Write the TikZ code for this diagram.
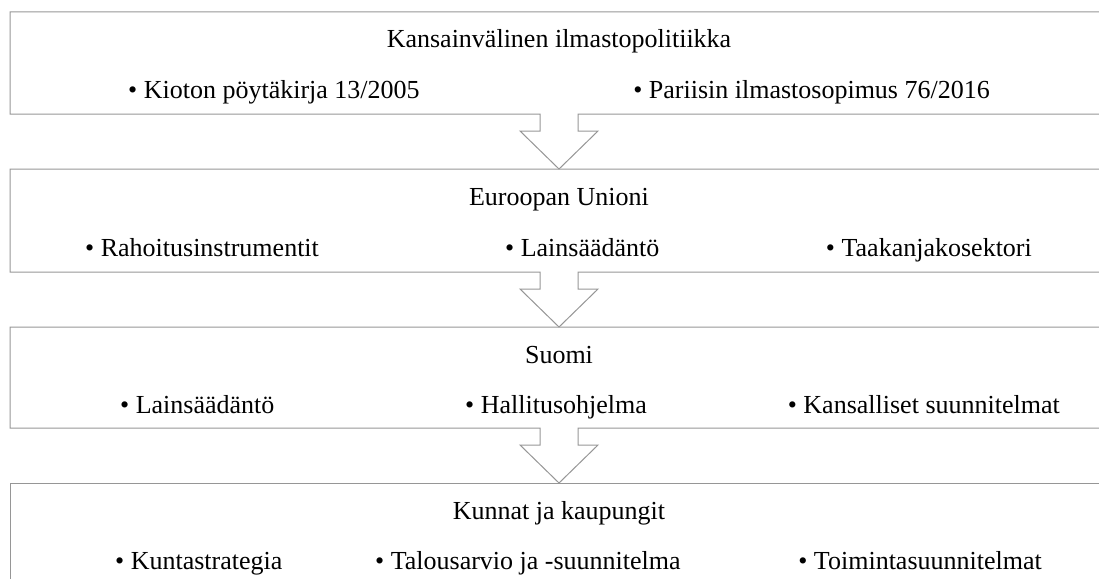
\documentclass[tikz,border=0pt]{standalone}
\usepackage{fontspec}
\setmainfont{Liberation Serif}
\definecolor{linegray}{RGB}{150,150,150}
\begin{document}
\begin{tikzpicture}[x=1pt,y=-1pt,
  box/.style={draw=linegray,line width=1pt,line join=miter},
  txt/.style={font=\fontsize{26}{30}\selectfont,inner sep=0pt}]
\useasboundingbox (0,0) rectangle (1099,578);
\clip (0,0) rectangle (1099,578);
% boxes with arrow notches in their bottom edges
\foreach \t/\b in {12/114,169/272,327/428}{
  \draw[box] (10,\t) -- (1110,\t) -- (1110,\b) -- (578,\b) -- (578,{\b+17}) -- (598,{\b+17})
    -- (559,{\b+55}) -- (520,{\b+17}) -- (540,{\b+17}) -- (540,\b) -- (10,\b) -- cycle;
}
\draw[box] (10,600) -- (10,483) -- (1110,483);
% box 1
\node[txt,anchor=base] (t1) at (559,48) {Kansainvälinen ilmastopolitiikka};
\node[txt,anchor=base west] (a1) at (128,98) {• Kioton pöytäkirja 13/2005};
\node[txt,anchor=base east] (b1) at (990,98) {• Pariisin ilmastosopimus 76/2016};
% box 2
\node[txt,anchor=base] (t2) at (559,205) {Euroopan Unioni};
\node[txt,anchor=base west] (a2) at (85,256) {• Rahoitusinstrumentit};
\node[txt,anchor=base west] (b2) at (505,256) {• Lainsäädäntö};
\node[txt,anchor=base east] (c2) at (1032,256) {• Taakanjakosektori};
% box 3
\node[txt,anchor=base] (t3) at (559,363) {Suomi};
\node[txt,anchor=base west] (a3) at (120,413) {• Lainsäädäntö};
\node[txt,anchor=base west] (b3) at (465,413) {• Hallitusohjelma};
\node[txt,anchor=base east] (c3) at (1060,413) {• Kansalliset suunnitelmat};
% box 4
\node[txt,anchor=base] (t4) at (559,519) {Kunnat ja kaupungit};
\node[txt,anchor=base west] (a4) at (115,569) {• Kuntastrategia};
\node[txt,anchor=base west] (b4) at (375,569) {• Talousarvio ja -suunnitelma};
\node[txt,anchor=base east] (c4) at (1042,569) {• Toimintasuunnitelmat};
\end{tikzpicture}
\end{document}
